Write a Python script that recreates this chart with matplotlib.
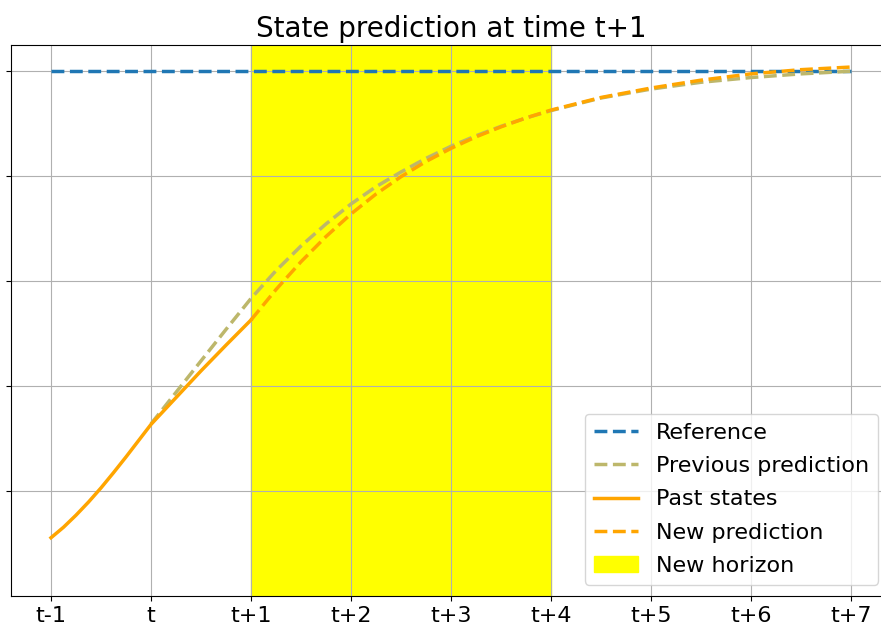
import matplotlib
matplotlib.use("Agg")
import matplotlib.pyplot as plt

# time steps, t-1 .. t+7
tick_labels = ["t-1", "t", "t+1", "t+2", "t+3", "t+4", "t+5", "t+6", "t+7"]
tick_pos = list(range(len(tick_labels)))

reference_x = [0, 8]
reference_y = [1.0, 1.0]

past_x = [0, 0.125, 0.25, 0.375, 0.5, 0.625, 0.75, 0.875, 1.0,
          1.25, 1.5, 1.75, 2.0]
past_y = [0.111, 0.131, 0.154, 0.179, 0.206, 0.235, 0.265, 0.296, 0.327,
          0.378, 0.429, 0.478, 0.526]

prev_x = [1.0, 1.25, 1.5, 1.75, 2.0, 2.25, 2.5, 2.75, 3.0, 3.25, 3.5, 3.75,
          4.0, 4.25, 4.5, 4.75, 5.0, 5.5, 6.0, 6.5, 7.0, 7.5, 8.0]
prev_y = [0.328, 0.388, 0.448, 0.508, 0.567, 0.620, 0.667, 0.709, 0.747, 0.780,
          0.808, 0.834, 0.857, 0.877, 0.895, 0.911, 0.925, 0.949, 0.966, 0.979,
          0.988, 0.995, 1.0]

new_x = [2.0, 2.25, 2.5, 2.75, 3.0, 3.25, 3.5, 3.75, 4.0, 4.25, 4.5, 4.75,
         5.0, 5.5, 6.0, 6.5, 7.0, 7.5, 8.0]
new_y = [0.526, 0.584, 0.637, 0.685, 0.728, 0.766, 0.799, 0.828, 0.853, 0.875,
         0.894, 0.911, 0.926, 0.950, 0.968, 0.983, 0.995, 1.003, 1.008]

horizon = (2, 5)

fig = plt.figure(figsize=(8.81, 6.24), dpi=100)
ax = fig.add_axes([11 / 881, 28 / 624, 880 / 881, 551 / 624])

ax.axvspan(horizon[0], horizon[1], color="yellow", label="New horizon")
ax.plot(reference_x, reference_y, "--", color="tab:blue", lw=2.5, label="Reference")
ax.plot(prev_x, prev_y, "--", color="darkkhaki", lw=2.5, label="Previous prediction")
ax.plot(past_x, past_y, "-", color="orange", lw=2.5, label="Past states")
ax.plot(new_x, new_y, "--", color="orange", lw=2.5, label="New prediction")

ax.set_xlim(-0.4, 8.4)
ax.set_ylim(0, 1.05)
ax.set_xticks(tick_pos)
ax.set_xticklabels(tick_labels, fontsize=16)
ax.set_yticks([0.2, 0.4, 0.6, 0.8, 1.0])
ax.set_yticklabels([])
ax.grid(True)
ax.set_title("State prediction at time t+1", fontsize=20)

# legend order as in the original: lines first, horizon last
handles, labels = ax.get_legend_handles_labels()
order = [1, 2, 3, 4, 0]
ax.legend([handles[i] for i in order], [labels[i] for i in order],
          loc="lower right", fontsize=16, labelspacing=0.6,
          bbox_to_anchor=(0.998, 0.0))

fig.savefig("out.png", dpi=100)
